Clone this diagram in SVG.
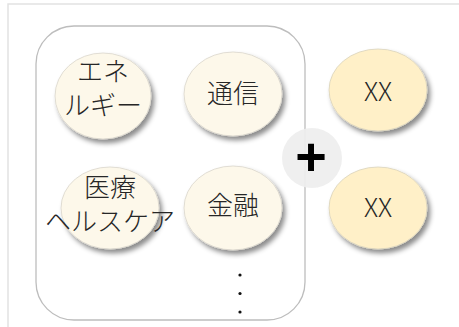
<svg xmlns="http://www.w3.org/2000/svg" width="459" height="327" viewBox="0 0 459 327">
<style>
.frame{fill:none;stroke:#e2e2e2;stroke-width:1.5}
.group{fill:#ffffff;stroke:#bdbdbd;stroke-width:1.3}
.node{fill:#fdf8ea;stroke:#d9d6cc;stroke-width:0.8;filter:url(#sh)}
.node2{fill:#fff0c8;stroke:#d9d3bd;stroke-width:0.8;filter:url(#sh)}
.lbl{font-family:"Noto Sans CJK JP","Noto Sans",sans-serif;font-size:26px;font-weight:300;fill:#262626;text-anchor:middle}
.dot{fill:#111}
</style>
<defs>
<filter id="sh" x="-20%" y="-20%" width="150%" height="150%">
<feDropShadow dx="3" dy="4" stdDeviation="2.5" flood-color="#000" flood-opacity="0.45"/>
</filter>
</defs>
<rect x="0" y="0" width="459" height="327" fill="#ffffff"/>
<rect class="frame" x="8" y="4" width="480" height="360"/>
<rect id="container" class="group" x="36" y="26" width="269" height="294" rx="38" ry="38"/>
<g id="connectors"></g>
<g id="node-energy">
<ellipse class="node" cx="103" cy="96" rx="48" ry="43"/>
<text class="lbl" x="103" y="81">エネ</text>
<text class="lbl" x="103" y="115">ルギー</text>
</g>
<g id="node-tsushin">
<ellipse class="node" cx="233" cy="94" rx="49" ry="42"/>
<text class="lbl" x="233" y="103">通信</text>
</g>
<g id="node-iryo">
<ellipse class="node" cx="110" cy="208" rx="49" ry="41"/>
<text class="lbl" x="110" y="197">医療</text>
<text class="lbl" x="110" y="231">ヘルスケア</text>
</g>
<g id="node-kinyu">
<ellipse class="node" cx="233" cy="208" rx="49" ry="42"/>
<text class="lbl" x="233" y="215">金融</text>
</g>
<g id="node-xx1">
<ellipse class="node2" cx="378" cy="90" rx="49" ry="41"/>
<text class="lbl" x="378" y="101">XX</text>
</g>
<g id="node-xx2">
<ellipse class="node2" cx="378" cy="208" rx="49" ry="41"/>
<text class="lbl" x="378" y="217">XX</text>
</g>
<g id="plus">
<circle cx="312" cy="158" r="30" fill="#eeeeee" fill-opacity="0.92"/>
<text x="311" y="175" font-family="Liberation Sans,sans-serif" font-weight="bold" font-size="54" fill="#000" text-anchor="middle">+</text>
</g>
<g id="ellipsis">
<circle class="dot" cx="240" cy="275" r="1.6"/>
<circle class="dot" cx="240" cy="293.5" r="1.6"/>
<circle class="dot" cx="240" cy="312" r="1.6"/>
</g>
</svg>
